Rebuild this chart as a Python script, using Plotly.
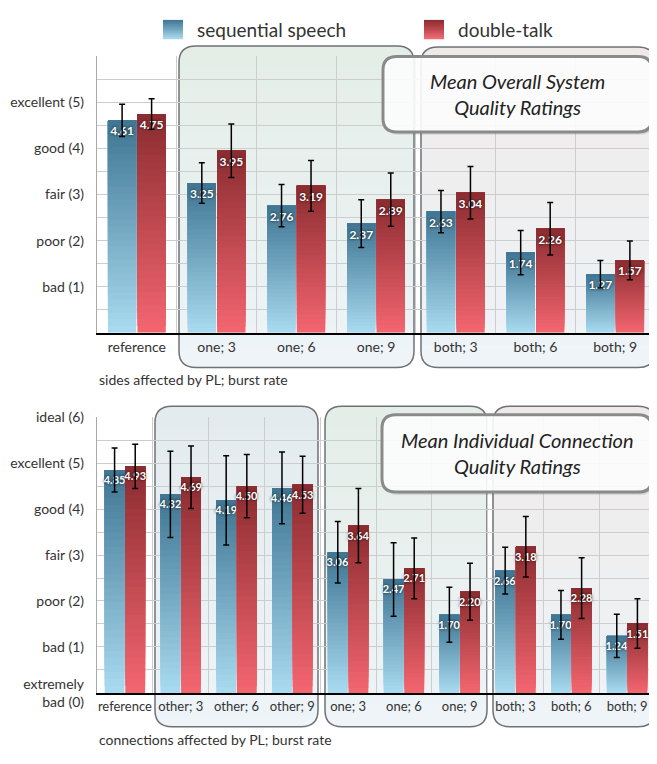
import math
import plotly.graph_objects as go

# The page body adds an 8px margin, so the figure is laid out in "reference pixel"
# coordinates and shifted by OFF to land on the same spots in the window.
VIEW_W, VIEW_H = 657, 764
OFF = 8
W, H = VIEW_W - OFF, VIEW_H - OFF

# ---------------- data ----------------
series_names = ["sequential speech", "double-talk"]

top_categories = ["reference", "one; 3", "one; 6", "one; 9", "both; 3", "both; 6", "both; 9"]
top_seq = [4.61, 3.25, 2.76, 2.37, 2.63, 1.74, 1.27]
top_dbl = [4.75, 3.95, 3.19, 2.89, 3.04, 2.26, 1.57]
top_seq_err = [0.35, 0.44, 0.46, 0.52, 0.46, 0.48, 0.30]
top_dbl_err = [0.33, 0.58, 0.55, 0.58, 0.57, 0.57, 0.42]

bot_categories = ["reference", "other; 3", "other; 6", "other; 9", "one; 3", "one; 6",
                  "one; 9", "both; 3", "both; 6", "both; 9"]
bot_seq = [4.85, 4.32, 4.19, 4.46, 3.06, 2.47, 1.70, 2.66, 1.70, 1.24]
bot_dbl = [4.93, 4.69, 4.50, 4.53, 3.64, 2.71, 2.20, 3.18, 2.28, 1.51]
bot_seq_err = [0.48, 0.94, 0.97, 0.78, 0.67, 0.80, 0.60, 0.51, 0.53, 0.47]
bot_dbl_err = [0.48, 0.68, 0.69, 0.62, 0.81, 0.66, 0.62, 0.66, 0.66, 0.54]

top_tick_vals = [1, 2, 3, 4, 5]
top_tick_text = ["bad (1)", "poor (2)", "fair (3)", "good (4)", "excellent (5)"]
bot_tick_vals = [0, 1, 2, 3, 4, 5, 6]
bot_tick_text = ["extremely<br>bad (0)", "bad (1)", "poor (2)", "fair (3)", "good (4)",
                 "excellent (5)", "ideal (6)"]

top_xtitle = "sides affected by PL; burst rate"
bot_xtitle = "connections affected by PL; burst rate"
top_title = "Mean Overall System<br>Quality Ratings"
bot_title = "Mean Individual Connection<br>Quality Ratings"

# ---------------- styles ----------------
FONT = "Lato"
TXT = "#333333"
GRID = "#cdcdcd"
BLUE_TOP, BLUE_BOT = "#3f7593", "#a9dbf0"
RED_TOP, RED_BOT = "#8a2c30", "#f46670"
N_SLICES = 32


def hex2rgb(h):
    h = h.lstrip("#")
    return [int(h[i:i + 2], 16) for i in (0, 2, 4)]


def mix(c0, c1, t):
    a, b = hex2rgb(c0), hex2rgb(c1)
    return "rgb(%d,%d,%d)" % tuple(round(a[i] + (b[i] - a[i]) * t) for i in range(3))


def px(x):
    return (x - OFF) / W


def py(y):
    return 1 - (y - OFF) / H


fig = go.Figure()


def add_bars(cats, vals, errs, name, ctop, cbot, group, xa, ya, fsize):
    # overlapping layers: layer k spans from k/N of the value up to the top,
    # each one a little darker, giving a top-dark / bottom-light gradient
    for k in range(N_SLICES):
        t = (k + 0.5) / N_SLICES
        fig.add_trace(go.Bar(
            x=cats, y=[v * (N_SLICES - k) / N_SLICES for v in vals],
            base=[v * k / N_SLICES for v in vals],
            marker=dict(color=mix(cbot, ctop, t), line=dict(width=0)),
            offsetgroup=group, xaxis=xa, yaxis=ya, showlegend=False, hoverinfo="skip"))
    fig.add_trace(go.Bar(
        x=cats, y=vals, name=name, offsetgroup=group, xaxis=xa, yaxis=ya, showlegend=False,
        marker=dict(color="rgba(0,0,0,0)", line=dict(width=0)),
        texttemplate="%{y:.2f}", textposition="inside", insidetextanchor="end",
        constraintext="none", textangle=0,
        textfont=dict(family=FONT, size=fsize, color="white", weight="bold",
                      shadow="0px 0px 3px rgba(0,0,0,0.9)"),
        error_y=dict(type="data", array=errs, visible=True, color="black",
                     thickness=1.5, width=3)))


add_bars(top_categories, top_seq, top_seq_err, series_names[0], BLUE_TOP, BLUE_BOT, "s", "x", "y", 12)
add_bars(top_categories, top_dbl, top_dbl_err, series_names[1], RED_TOP, RED_BOT, "d", "x", "y", 12)
add_bars(bot_categories, bot_seq, bot_seq_err, series_names[0], BLUE_TOP, BLUE_BOT, "s", "x2", "y2", 11)
add_bars(bot_categories, bot_dbl, bot_dbl_err, series_names[1], RED_TOP, RED_BOT, "d", "x2", "y2", 11)


def yaxis_cfg(domain, vals, texts):
    tv, tt = [], []
    for i in range(0, 13):
        v = i / 2
        tv.append(v)
        tt.append(texts[vals.index(v)] if v in vals else "")
    return dict(domain=domain, range=[0, 6], tickmode="array", tickvals=tv, ticktext=tt,
                showgrid=True, gridcolor=GRID, gridwidth=1.3, zeroline=False,
                showline=True, linecolor="#a8a8a8", linewidth=1.3,
                ticks="outside", ticklen=9, tickcolor="rgba(0,0,0,0)",
                tickfont=dict(family=FONT, size=14, color=TXT), fixedrange=True)


def xaxis_cfg(anchor, fsize):
    return dict(domain=[px(97), px(655)], anchor=anchor, type="category", tickson="boundaries",
                showgrid=True, gridcolor=GRID, gridwidth=1.3, showline=True,
                linecolor="black", linewidth=2, ticks="outside", ticklen=4,
                tickcolor="rgba(0,0,0,0)", tickangle=0,
                tickfont=dict(family=FONT, size=fsize, color=TXT), fixedrange=True)


shapes = []
annotations = []


def rounded_path(x0, y0, x1, y1, r):
    pts = [
        (x0 + r, y0), (x1 - r, y0), ("Q", x1, y0, x1, y0 + r), (x1, y1 - r),
        ("Q", x1, y1, x1 - r, y1), (x0 + r, y1), ("Q", x0, y1, x0, y1 - r),
        (x0, y0 + r), ("Q", x0, y0, x0 + r, y0)]
    s = "M %.5f,%.5f" % (px(pts[0][0]), py(pts[0][1]))
    for p in pts[1:]:
        if p[0] == "Q":
            s += " Q %.5f,%.5f %.5f,%.5f" % (px(p[1]), py(p[2]), px(p[3]), py(p[4]))
        else:
            s += " L %.5f,%.5f" % (px(p[0]), py(p[1]))
    return s + " Z"


def inset(y, y0, y1, r):
    d = min(y - y0, y1 - y)
    if d >= r:
        return 0.0
    d = max(d, 0.0)
    return r - math.sqrt(max(r * r - (r - d) ** 2, 0.0))


def gradient_box(x0, y0, x1, y1, r, ctop, cbot, line_color="#6d7277", lw=1.5, n=30):
    for i in range(n):
        ya = y0 + (y1 - y0) * i / n
        yb = min(y0 + (y1 - y0) * (i + 1) / n + 0.6, y1)
        ys = [ya + (yb - ya) * j / 4 for j in range(5)]
        left = [(x0 + inset(y, y0, y1, r), y) for y in ys]
        right = [(x1 - inset(y, y0, y1, r), y) for y in reversed(ys)]
        pts = left + right
        path = "M " + " L ".join("%.5f,%.5f" % (px(a), py(b)) for a, b in pts) + " Z"
        shapes.append(dict(type="path", path=path, xref="paper", yref="paper",
                           fillcolor=mix(ctop, cbot, (i + 0.5) / n),
                           line=dict(width=0), layer="below"))
    shapes.append(dict(type="path", path=rounded_path(x0, y0, x1, y1, r), xref="paper",
                       yref="paper", line=dict(color=line_color, width=lw), layer="below"))


GREEN_TOP, PINK_TOP, GREY_TOP, BOX_BOT = "#e4eee7", "#efeae8", "#e3ebef", "#eef4f8"

# top chart group boxes
gradient_box(179, 38, 414, 371, 17, GREEN_TOP, BOX_BOT)
gradient_box(421, 39, 655, 371, 17, PINK_TOP, BOX_BOT)
# bottom chart group boxes
gradient_box(155, 411, 318, 743, 17, GREY_TOP, BOX_BOT)
gradient_box(325, 411, 487, 743, 17, GREEN_TOP, BOX_BOT)
gradient_box(493, 411, 655, 743, 17, PINK_TOP, BOX_BOT)


def title_box(x0, y0, x1, y1, text):
    shapes.append(dict(type="path", path=rounded_path(x0 + 2, y0 + 3, x1 + 2, y1 + 3, 14),
                       xref="paper", yref="paper", fillcolor="rgba(0,0,0,0.10)",
                       line=dict(width=0), layer="above"))
    shapes.append(dict(type="path", path=rounded_path(x0, y0, x1, y1, 14), xref="paper",
                       yref="paper", fillcolor="rgba(255,255,255,0.9)",
                       line=dict(color="#8a8a8a", width=3), layer="above"))
    annotations.append(dict(x=px((x0 + x1) / 2), y=py((y0 + y1) / 2), xref="paper", yref="paper",
                            text=text, showarrow=False, xanchor="center", yanchor="middle",
                            font=dict(family=FONT, size=20, color="#222222", style="italic")))


title_box(383, 49, 652, 127, top_title)
title_box(382, 420, 652, 500, bot_title)

# axis titles
annotations.append(dict(x=px(97), y=py(383), xref="paper", yref="paper", text=top_xtitle,
                        showarrow=False, xanchor="left", yanchor="middle",
                        font=dict(family=FONT, size=14, color=TXT)))
annotations.append(dict(x=px(97), y=py(756), xref="paper", yref="paper", text=bot_xtitle,
                        showarrow=False, xanchor="left", yanchor="middle",
                        font=dict(family=FONT, size=14, color=TXT)))


# legend (gradient squares + labels)
def legend_item(x, name, ctop, cbot):
    n = 10
    for i in range(n):
        ya = 11 + 20 * i / n
        yb = min(11 + 20 * (i + 1) / n + 0.5, 31)
        shapes.append(dict(type="rect", xref="paper", yref="paper", x0=px(x), x1=px(x + 20),
                           y0=py(yb), y1=py(ya), fillcolor=mix(ctop, cbot, (i + 0.5) / n),
                           line=dict(width=0), layer="above"))
    annotations.append(dict(x=px(x + 32), y=py(21), xref="paper", yref="paper", text=name,
                            showarrow=False, xanchor="left", yanchor="middle",
                            font=dict(family=FONT, size=19, color=TXT)))


legend_item(163, series_names[0], BLUE_TOP, BLUE_BOT)
legend_item(424, series_names[1], RED_TOP, RED_BOT)

fig.update_layout(
    width=W, height=H, margin=dict(l=0, r=0, t=0, b=0),
    paper_bgcolor="white", plot_bgcolor="rgba(255,255,255,0)",
    barmode="group", bargap=0.26, bargroupgap=0.04, showlegend=False,
    font=dict(family=FONT, color=TXT),
    xaxis=xaxis_cfg("y", 14),
    yaxis=yaxis_cfg([py(335), py(48.8)], top_tick_vals, top_tick_text),
    xaxis2=xaxis_cfg("y2", 13),
    yaxis2=yaxis_cfg([py(708), py(422.4)], bot_tick_vals, bot_tick_text),
    shapes=shapes, annotations=annotations,
)

fig.write_html("out.html")
